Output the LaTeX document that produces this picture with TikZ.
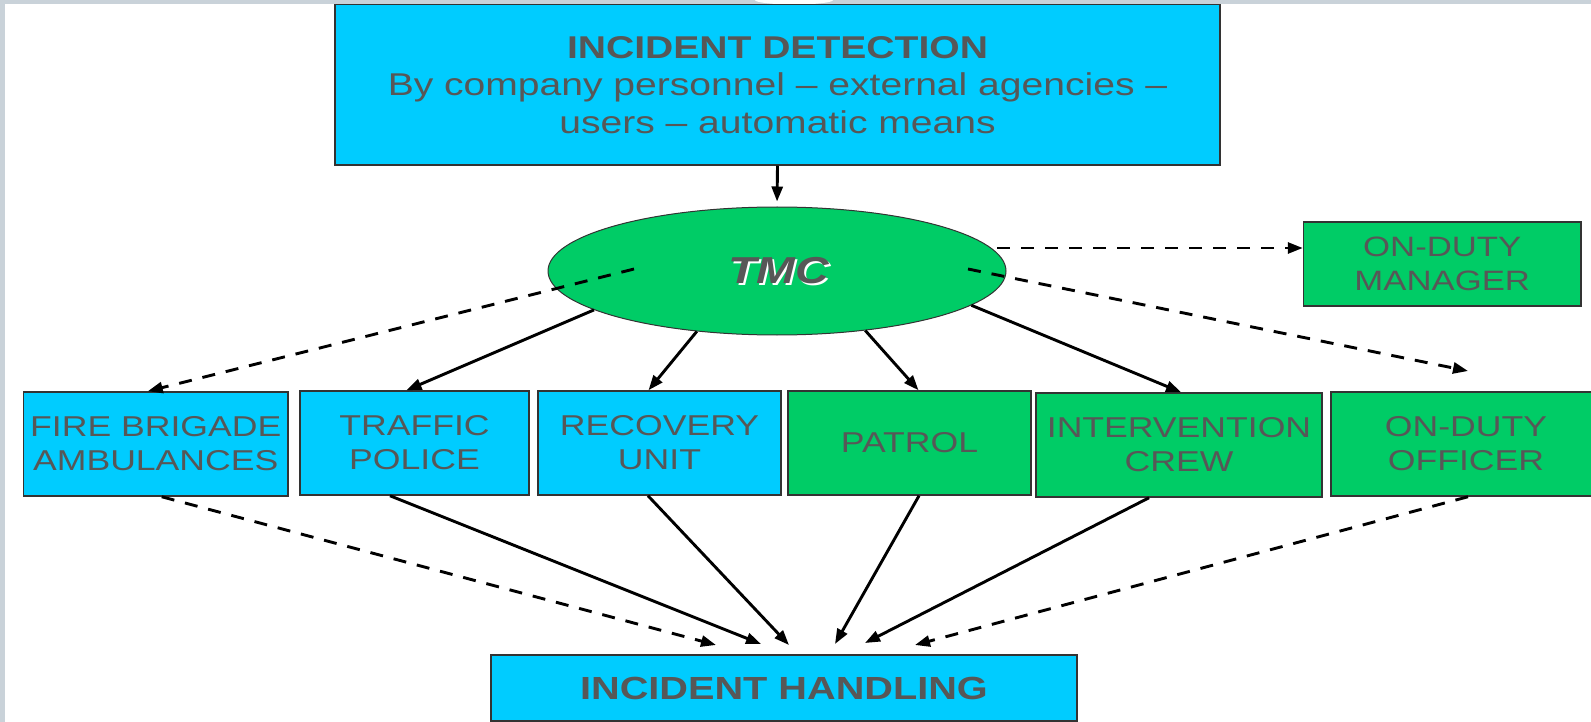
\documentclass[tikz,border=0pt]{standalone}
\usepackage{fontspec}
\setmainfont[FakeStretch=1.24]{Liberation Sans}
\usetikzlibrary{arrows.meta,shapes.geometric}
\definecolor{cyanbox}{HTML}{00CCFF}
\definecolor{greenbox}{HTML}{00CC66}
\definecolor{txt}{HTML}{575757}
\definecolor{boxline}{HTML}{333333}
\definecolor{edgegray}{HTML}{C9D2D9}
\begin{document}
\begin{tikzpicture}[x=1pt,y=-1pt,
  box/.style={draw=boxline, line width=1.5pt, inner sep=0pt, text=txt, align=center,
              font=\fontsize{28.7}{34}\selectfont},
  cyanb/.style={box, fill=cyanbox},
  greenb/.style={box, fill=greenbox},
  arr/.style={line width=2.9pt, -{Triangle[length=15pt,width=11pt]}},
  darr/.style={arr, dash pattern=on 13pt off 11pt}]
\useasboundingbox (0,0) rectangle (1591,722);
\clip (0,0) rectangle (1591,722);
% frame strips
\fill[edgegray] (0,0) rectangle (1591,4.5);
\fill[edgegray] (0,0) rectangle (5,722);
\fill[white] (794,0) ellipse [x radius=39, y radius=4.5];
% nodes
\node[cyanb, minimum width=885pt, minimum height=160.5pt, font=\fontsize{31.5}{37.5}\selectfont]
  (top) at (777.5,84.75) {{\bfseries INCIDENT DETECTION}\\By company personnel – external agencies –\\users – automatic means};
\node[ellipse, draw=boxline, line width=1pt, fill=greenbox, minimum width=458pt, minimum height=128pt, inner sep=0pt]
  (tmc) at (777,271) {};
\node[text=white, font=\fontsize{37.5}{40}\selectfont\bfseries\itshape, inner sep=0pt] (tmcshadow) at (780.5,273) {TMC};
\node[text=txt, font=\fontsize{37.5}{40}\selectfont\bfseries\itshape, inner sep=0pt] (tmclabel) at (778.5,271) {TMC};
\node[greenb, minimum width=277.5pt, minimum height=84pt, font=\fontsize{28}{34.5}\selectfont]
  (mgr) at (1442.25,264) {ON-DUTY\\MANAGER};
\node[cyanb, minimum width=264.5pt, minimum height=104pt] (fire) at (155.75,444) {FIRE BRIGADE\\AMBULANCES};
\node[cyanb, minimum width=229pt, minimum height=104pt] (traffic) at (414.5,443) {TRAFFIC\\POLICE};
\node[cyanb, minimum width=243pt, minimum height=104pt] (recovery) at (659.5,443) {RECOVERY\\UNIT};
\node[greenb, minimum width=243pt, minimum height=104pt] (patrol) at (909.5,443) {PATROL};
\node[greenb, minimum width=286pt, minimum height=104pt] (interv) at (1179,445) {INTERVENTION\\CREW};
\node[greenb, minimum width=270pt, minimum height=104pt] (officer) at (1466,444) {ON-DUTY\\OFFICER};
\node[cyanb, minimum width=586pt, minimum height=66pt, font=\fontsize{32}{36}\selectfont\bfseries]
  (handling) at (784,688) {INCIDENT HANDLING};
% free-end coordinates
\coordinate (tmcL) at (634,269);
\coordinate (tmcR) at (968,269);
\coordinate (mgrfrom) at (997,248);
\coordinate (offend) at (1468,371);
\coordinate (h1) at (716,645);
\coordinate (h2) at (761,644);
\coordinate (h3) at (789,645);
\coordinate (h4) at (835,644);
\coordinate (h5) at (865,643);
\coordinate (h6) at (915,645);
% connectors
\draw[arr, shorten >=5pt] (top.south) -- (tmc.north);
\draw[darr] (mgrfrom) -- ([yshift=16pt]mgr.west);
\draw[darr] (tmcL) -- ([xshift=-8pt]fire.north);
\draw[darr] (tmcR) -- (offend);
\draw[arr] (tmc.192.9) -- ([xshift=-8pt]traffic.north);
\draw[arr] (tmc.217.7) -- ([xshift=-11pt]recovery.north);
\draw[arr] (tmc.326.2) -- ([xshift=9pt]patrol.north);
\draw[arr] (tmc.350.9) -- ([xshift=2pt]interv.north);
\draw[darr] ([xshift=6pt]fire.south) -- (h1);
\draw[arr] ([xshift=-24.5pt]traffic.south) -- (h2);
\draw[arr] ([xshift=-11.5pt]recovery.south) -- (h3);
\draw[arr] ([xshift=9.5pt]patrol.south) -- (h4);
\draw[arr] ([xshift=-30pt]interv.south) -- (h5);
\draw[darr] ([xshift=2pt]officer.south) -- (h6);
\end{tikzpicture}
\end{document}
